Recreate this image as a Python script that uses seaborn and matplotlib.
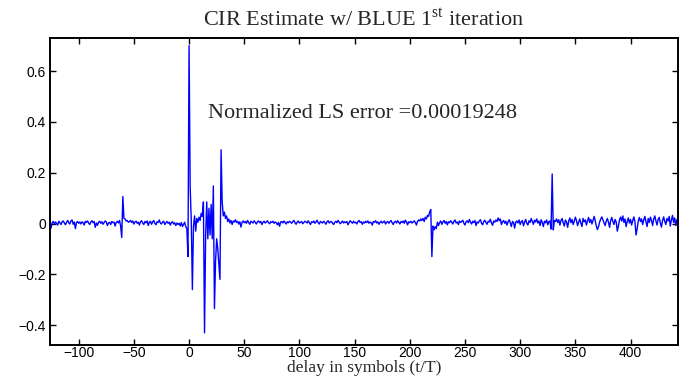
import numpy as np
import pandas as pd
import matplotlib
matplotlib.use("Agg")
import matplotlib.pyplot as plt
import seaborn as sns

# ---------------- data ----------------
delay_start = -126   # first delay index (symbols)
delay_stop = 443     # last delay index

seg_a = [0.002, -0.018, 0.004, 0.008, -0.003, 0.006, 0.001, -0.006, 0.009, 0.003,
         -0.004, 0.007, 0.010, 0.002, -0.005, 0.005, 0.012, 0.003, -0.002, 0.011,
         0.014, -0.003, 0.006, -0.020, 0.004, 0.008, 0.001, 0.006, -0.002, 0.007,
         0.003, -0.006, 0.009, 0.004, 0.010, 0.002, -0.004, 0.006, 0.011, 0.003,
         0.008, -0.015, 0.002, -0.007, 0.005, 0.009, 0.001, 0.007, -0.003, 0.004,
         0.010, 0.006, -0.008, 0.002, 0.005, -0.004, 0.008, 0.003, 0.006, -0.010,
         0.004, 0.009, 0.002, 0.012]
seg_b = [-0.010, -0.055, 0.106, 0.020, 0.018, 0.010, 0.012, 0.005]
seg_c = [0.008, 0.012, 0.004, 0.010, -0.002, 0.006, 0.009, 0.001, 0.005, -0.006,
         0.007, 0.011, 0.002, -0.004, 0.008, 0.003, 0.010, -0.008, 0.005, 0.009,
         -0.003, 0.006, 0.012, 0.001, -0.005, 0.007, 0.004, 0.014, 0.002, -0.002,
         0.006, 0.009, -0.004, 0.003, 0.008, 0.001, 0.005, -0.006, 0.004, 0.007,
         -0.002, 0.003, -0.008, 0.002, -0.004, 0.001, -0.010, 0.004, -0.012, -0.003]
seg_d = [0.005, -0.012, -0.020, -0.130, 0.700, 0.145, 0.010, -0.260, -0.010, 0.030,
         -0.030, 0.020, 0.005, 0.025, 0.012, 0.040, 0.028, 0.085, -0.430, -0.050,
         0.085, -0.060, 0.060, -0.045, 0.075, -0.060, 0.148, -0.335, -0.150, -0.060,
         -0.100, -0.160, -0.220, 0.290, 0.085, 0.030, 0.045, 0.020, 0.030, 0.008,
         0.018, 0.002, 0.012, -0.004, 0.010]
seg_e = [0.006, 0.015, 0.004, 0.009, -0.002, 0.007, -0.014, 0.005, 0.010, 0.003,
         0.008, 0.001, 0.012, 0.004, -0.003, 0.009, 0.006, 0.002, 0.011, 0.004,
         -0.002, 0.007, 0.010, 0.003, 0.008, -0.004, 0.005, 0.009, 0.002, 0.006,
         0.011, 0.003, -0.001, 0.007, 0.004, 0.009, 0.001, 0.006, 0.003, -0.005,
         0.004, -0.011, 0.006, 0.008, 0.002, 0.010, 0.004, -0.002, 0.007, 0.003,
         0.009, 0.005, 0.001, 0.008, 0.012, 0.003, -0.003, 0.006, 0.010, 0.002,
         0.005, 0.008, -0.001, 0.004, 0.009, 0.006, 0.002, 0.011, 0.003, -0.004,
         0.007, 0.004, 0.010, 0.001, 0.006, 0.013, 0.003, -0.002, 0.008, 0.005,
         0.002, 0.009, 0.004, -0.003, 0.007, 0.011, 0.002, 0.006, 0.008, 0.001,
         -0.004, 0.005, 0.009, 0.003, 0.012, 0.006, -0.001, 0.004, 0.010, 0.002,
         0.007, 0.003, 0.008, -0.005, 0.004, 0.011, 0.006, 0.001, 0.009, 0.003,
         0.005, -0.002, 0.008, 0.012, 0.004, 0.007, -0.003, 0.006, 0.002, 0.009,
         0.004, 0.010, 0.001, 0.006, 0.003, -0.006, 0.008, 0.005, 0.011, 0.002,
         0.007, -0.003, 0.004, 0.009, 0.002, 0.006, 0.010, -0.002, 0.005, 0.008,
         0.001, 0.007, 0.012, 0.003, -0.004, 0.006, 0.009, 0.002, 0.011, 0.005,
         -0.002, 0.008, 0.004, 0.010, 0.001, 0.013, 0.006, -0.005, 0.007, 0.003,
         0.009, 0.002, 0.005, 0.011, 0.004, -0.006, 0.008, 0.014, 0.010, 0.018]
seg_f = [0.012, 0.020, 0.008, 0.025, 0.018, 0.032, 0.028, 0.045, 0.055, -0.130,
         -0.010, -0.025, -0.012, -0.020, 0.005, -0.008]
seg_g = [0.004, 0.010, -0.003, 0.006, 0.012, 0.001, 0.008, -0.005, 0.007, 0.003,
         0.011, 0.005, -0.002, 0.009, 0.014, 0.002, 0.006, -0.004, 0.010, 0.004,
         0.008, 0.013, 0.001, -0.006, 0.007, 0.011, 0.003, 0.016, 0.005, -0.002,
         0.009, 0.004, 0.012, -0.008, 0.006, 0.002, 0.010, 0.015, 0.001, -0.005,
         0.008, 0.013, 0.004, -0.003, 0.009, 0.006, 0.017, 0.002, -0.007, 0.010,
         0.005, 0.014, 0.008, 0.022, 0.011, 0.018, -0.004, 0.007, 0.012, 0.001,
         0.009, -0.006, 0.006, 0.015, 0.003, -0.012, 0.008, 0.004, -0.018, 0.006,
         0.010, 0.002, 0.014, -0.004, 0.007, 0.012, -0.009, 0.005, 0.016, 0.001,
         -0.006, 0.011, 0.004, 0.020, 0.008, -0.003, 0.013, 0.006, 0.018, 0.002,
         0.010, -0.008, 0.015, 0.004, -0.012, 0.009, 0.003, 0.014, -0.005, 0.007]
seg_h = [0.010, -0.022, 0.195, -0.025, 0.012]
seg_i = [0.008, 0.018, 0.004, 0.015, -0.006, 0.012, 0.020, 0.002, -0.010, 0.014,
         0.006, -0.015, 0.010, 0.022, 0.003, 0.016, -0.004, 0.009, 0.025, 0.012,
         -0.008, 0.005, 0.018, 0.001, -0.012, 0.020, 0.007, 0.014, -0.006, 0.011,
         0.024, 0.004, 0.016, -0.002, 0.012, 0.028, 0.010, -0.010, -0.024, -0.012,
         0.006, 0.018, 0.026, 0.014, 0.002, -0.008, 0.010, 0.020, 0.005, -0.015,
         0.012, 0.024, 0.008, -0.004, 0.016, 0.006, -0.030, -0.010, 0.014, 0.025,
         0.010, 0.030, 0.004, 0.018, -0.012, 0.008, 0.022, 0.002, 0.016, -0.006,
         0.012, 0.026, 0.006, -0.045, -0.020, 0.010, 0.024, 0.008, 0.018, -0.004,
         0.015, 0.028, 0.006, -0.012, 0.020, 0.004, 0.025, 0.012, -0.008, 0.018,
         0.030, 0.010, -0.006, 0.016, 0.024, 0.002, -0.014, 0.012, 0.026, 0.008,
         -0.004, 0.020, 0.010, 0.028, -0.010, 0.014, 0.032, 0.004, 0.022, -0.008,
         0.016, 0.006]

x_ticks = [-100, -50, 0, 50, 100, 150, 200, 250, 300, 350, 400]
y_ticks = [-0.4, -0.2, 0, 0.2, 0.4, 0.6]
y_tick_labels = ["\u22120.4", "\u22120.2", "0", "0.2", "0.4", "0.6"]
title_text = "CIR Estimate w/ BLUE 1$^{\\mathrm{st}}$ iteration"
xlabel_text = "delay in symbols (t/T)"
note_text = "Normalized LS error =0.00019248"

cir = seg_a + seg_b + seg_c + seg_d + seg_e + seg_f + seg_g + seg_h + seg_i
delay = np.arange(delay_start, delay_stop + 1)
df = pd.DataFrame({"delay": delay, "cir": cir})

# ---------------- plotting ----------------
sns.set_theme(style="ticks")
plt.rcParams["font.family"] = ["Liberation Sans", "DejaVu Sans"]
plt.rcParams["mathtext.fontset"] = "custom"
plt.rcParams["mathtext.rm"] = "Liberation Serif"

fig = plt.figure(figsize=(6.91, 3.76), dpi=100)
bottom_px, top_px = 345, 38
ax = fig.add_axes([50 / 691, 1 - bottom_px / 376, 628 / 691, (bottom_px - top_px) / 376])

sns.lineplot(data=df, x="delay", y="cir", ax=ax, color="#0000ff",
             linewidth=1.0, estimator=None)

ax.set_xlim(delay_start, delay_stop)
ax.set_ylim(-0.478, 0.73)
ax.set_xticks(x_ticks)
ax.set_xticklabels([("\u2212" + str(-t)) if t < 0 else str(t) for t in x_ticks])
ax.set_yticks(y_ticks)
ax.set_yticklabels(y_tick_labels)
ax.tick_params(direction="in", length=4, width=1.0, top=True, right=True,
               labelsize=10, pad=3, colors="black")
ax.tick_params(axis="x", pad=1.0)
for s in ax.spines.values():
    s.set_visible(True)
    s.set_linewidth(1.4)
    s.set_color("black")

serif = ["Liberation Serif", "DejaVu Serif"]
ax.set_title(title_text, fontsize=16, family=serif, pad=9)
ax.set_xlabel(xlabel_text, fontsize=12.5, family=serif)
ax.xaxis.label.set_va("baseline")
ax.xaxis.set_label_coords(0.5, (bottom_px - 371.5) / (bottom_px - top_px))
ax.set_ylabel("")
ax.text(17, 0.414, note_text, fontsize=16, family=serif, va="baseline", ha="left")

fig.savefig("out.png", dpi=100)
